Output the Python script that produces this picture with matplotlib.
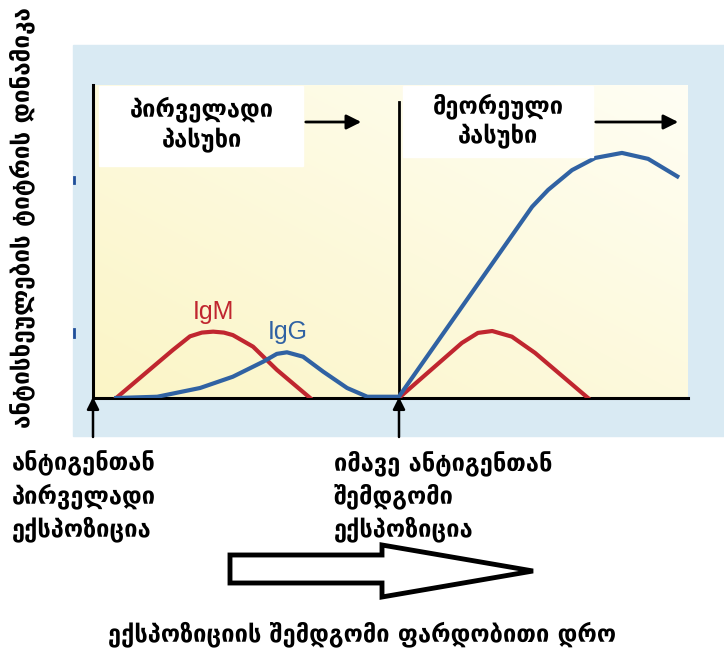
import numpy as np
import matplotlib.pyplot as plt
from matplotlib.patches import Rectangle, Polygon, FancyArrowPatch

# ---- data (time / titre, arbitrary units 0-100) ----
igm1_t = [3.9, 13.4, 16.3, 18.3, 20.2, 22.0, 23.5, 26.9, 30.9, 36.5]
igm1_v = [0.0, 15.3, 19.7, 20.9, 21.2, 20.9, 20.1, 16.4, 9.0, 0.0]

igg_t = [3.9, 10.8, 18.0, 23.5, 28.6, 30.9, 32.6, 35.3, 38.7, 42.7, 46.1, 50.4, 51.4,
         73.8, 76.5, 80.5, 84.4, 88.9, 93.3, 98.2]
igg_v = [0.0, 0.4, 3.2, 6.8, 11.6, 14.1, 14.6, 13.2, 8.4, 3.2, 0.4, 0.4, 0.4,
         61.1, 66.5, 72.8, 76.7, 78.3, 76.4, 70.8]

igm2_t = [51.4, 62.0, 64.7, 67.1, 70.4, 74.3, 83.2]
igm2_v = [0.0, 17.6, 20.8, 21.4, 19.6, 14.4, 0.0]

second_exposure = 51.4

y_label = "ანტისხეულების ტიტრის დინამიკა"
x_label = "ექსპოზიციის შემდგომი ფარდობითი დრო"
box1_text = "პირველადი\nპასუხი"
box2_text = "მეორეული\nპასუხი"
exp1_text = "ანტიგენთან\nპირველადი\nექსპოზიცია"
exp2_text = "იმავე ანტიგენთან\nშემდგომი\nექსპოზიცია"

RED = "#c0262f"
BLUE = "#3062a3"
PANEL = "#d9eaf3"

W, H = 724, 652
fig = plt.figure(figsize=(W / 100, H / 100), dpi=100)
fig.patch.set_facecolor("white")

# background axes in pixel coordinates (y down)
bg = fig.add_axes([0, 0, 1, 1])
bg.set_xlim(0, W)
bg.set_ylim(H, 0)
bg.axis("off")
bg.add_patch(Rectangle((73, 45), W - 73, 436 - 45, color=PANEL, zorder=0))

# small marks on left of panel
bg.plot([74, 74], [177, 183], color="#1f4f9a", lw=2)
bg.plot([74, 74], [329, 337], color="#1f4f9a", lw=2)

# main data axes
x0, x1, y0, y1 = 93, 688, 85, 398
ax = fig.add_axes([x0 / W, 1 - y1 / H, (x1 - x0) / W, (y1 - y0) / H])
ax.set_xlim(0, 100)
ax.set_ylim(0, 100)

# yellow gradient
gx, gy = np.meshgrid(np.linspace(0, 1, 200), np.linspace(0, 1, 200))
g = np.clip((gx + gy) / 2.0, 0, 1)
c0 = np.array([251, 245, 198]) / 255.0
c1 = np.array([255, 254, 244]) / 255.0
img = c0[None, None, :] * (1 - g[..., None]) + c1[None, None, :] * g[..., None]
ax.imshow(img, extent=[0, 100, 0, 100], origin="lower", aspect="auto", zorder=0)

for s in ["top", "right"]:
    ax.spines[s].set_visible(False)
ax.spines["left"].set_linewidth(2.2)
ax.spines["bottom"].set_linewidth(2.2)
ax.set_xticks([])
ax.set_yticks([])

ax.plot([second_exposure, second_exposure], [0, 94.5], color="black", lw=2, zorder=2)

ax.plot(igm1_t, igm1_v, color=RED, lw=3, solid_joinstyle="round", zorder=3)
ax.plot(igm2_t, igm2_v, color=RED, lw=3, solid_joinstyle="round", zorder=3)
ax.plot(igg_t, igg_v, color=BLUE, lw=3, solid_joinstyle="round", zorder=4)

ax.text(20.2, 27.5, "IgM", color=RED, fontsize=18, ha="center", va="center",
        family="Liberation Sans")
ax.text(32.8, 21.0, "IgG", color=BLUE, fontsize=18, ha="center", va="center",
        family="Liberation Sans")

# overlay axes for boxes, arrows and labels
ov = fig.add_axes([0, 0, 1, 1])
ov.set_xlim(0, W)
ov.set_ylim(H, 0)
ov.axis("off")
ov.patch.set_alpha(0)

ov.add_patch(Rectangle((99, 86), 204, 80, color="white", zorder=5))
ov.add_patch(Rectangle((403, 86), 190, 71, color="white", zorder=5))
ov.text(202, 125, box1_text, ha="center", va="center", fontsize=17,
        fontweight="bold", linespacing=1.3, zorder=6)
ov.text(498, 121, box2_text, ha="center", va="center", fontsize=17,
        fontweight="bold", linespacing=1.3, zorder=6)
for xa, xb in [(303, 364), (593, 681)]:
    ov.add_patch(FancyArrowPatch((xa, 122), (xb, 122), arrowstyle="-|>",
                                 mutation_scale=22, lw=2, color="black", zorder=6))

# exposure arrows under axis
for xp in [93, 399]:
    ov.add_patch(FancyArrowPatch((xp, 437), (xp, 397), arrowstyle="-|>",
                                 mutation_scale=18, lw=1.8, color="black",
                                 shrinkA=0, shrinkB=0, zorder=6))

# exposure labels
ov.text(12, 496, exp1_text, ha="left", va="center", fontsize=17,
        fontweight="bold", linespacing=1.35)
ov.text(334, 496, exp2_text, ha="left", va="center", fontsize=17,
        fontweight="bold", linespacing=1.35)

# big hollow arrow
ov.add_patch(Polygon([(230, 555), (382, 555), (382, 545), (533, 571),
                      (382, 597), (382, 583), (230, 583)],
                     closed=True, facecolor="white", edgecolor="black", lw=3.5,
                     joinstyle="miter", zorder=5))

# axis titles
ov.text(362, 634, x_label, ha="center", va="center", fontsize=17, fontweight="bold")
ov.text(22, 218, y_label, ha="center", va="center", fontsize=17.5, fontweight="bold",
        rotation=90)

fig.savefig("out.png", dpi=100)
